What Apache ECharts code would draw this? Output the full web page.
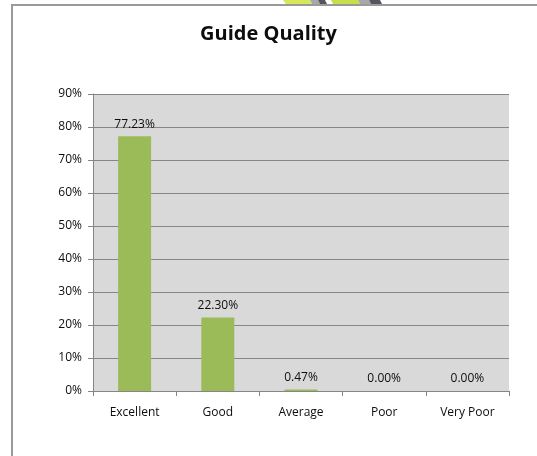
<!DOCTYPE html>
<html>
<head>
<meta charset="utf-8">
<script src="https://cdn.jsdelivr.net/npm/echarts@6/dist/echarts.min.js"></script>
<style>
  html, body { margin: 0; padding: 0; background: #fff; }
  #chart { width: 537px; height: 456px; }
</style>
</head>
<body>
<div id="chart"></div>
<script>
var categories = ['Excellent', 'Good', 'Average', 'Poor', 'Very Poor']
var quality = [77.23, 22.30, 0.47, 0.00, 0.00]

var myChart = echarts.init(document.getElementById('chart'))

var option = {
  backgroundColor: '#ffffff',
  animation: false,
  textStyle: { fontFamily: 'Open Sans' },
  title: {
    text: 'Guide Quality',
    left: 'center',
    top: 19,
    textStyle: {
      fontFamily: 'Open Sans',
      fontWeight: 'bold',
      fontSize: 20,
      color: '#0d0d0d'
    }
  },
  graphic: [
    // outer chart frame (runs off right/bottom edge)
    {
      type: 'rect',
      shape: { x: 12, y: 5, width: 600, height: 500 },
      style: { fill: null, stroke: '#9a9a9a', lineWidth: 2 },
      z: -1
    },
    // bits of a logo peeking in at the top
    { type: 'polygon', shape: { points: [[283, 0], [310, 0], [312, 4], [286, 4]] }, style: { fill: '#d6e85a' } },
    { type: 'polygon', shape: { points: [[310, 0], [318, 0], [320, 4], [312, 4]] }, style: { fill: '#a8a8a8' } },
    { type: 'polygon', shape: { points: [[318, 0], [325, 0], [327, 4], [320, 4]] }, style: { fill: '#55555f' } },
    { type: 'polygon', shape: { points: [[331, 0], [358, 0], [360, 4], [333, 4]] }, style: { fill: '#c8de4a' } },
    { type: 'polygon', shape: { points: [[358, 0], [369, 0], [371, 4], [360, 4]] }, style: { fill: '#a8a8a8' } },
    { type: 'polygon', shape: { points: [[369, 0], [380, 0], [382, 4], [371, 4]] }, style: { fill: '#55555f' } }
  ],
  grid: {
    left: 93,
    right: 28,
    top: 94,
    bottom: 65,
    show: true,
    backgroundColor: '#d9d9d9',
    borderWidth: 0
  },
  xAxis: {
    type: 'category',
    data: categories,
    axisLine: { lineStyle: { color: '#868686', width: 1 } },
    axisTick: { show: true, length: 5, lineStyle: { color: '#868686' } },
    axisLabel: { color: '#0d0d0d', fontSize: 12, margin: 16 }
  },
  yAxis: {
    type: 'value',
    min: 0,
    max: 90,
    interval: 10,
    axisLine: { show: true, lineStyle: { color: '#868686', width: 1 } },
    axisTick: { show: true, length: 5, lineStyle: { color: '#868686' } },
    axisLabel: { color: '#0d0d0d', fontSize: 12, margin: 11, formatter: '{value}%' },
    splitLine: { lineStyle: { color: '#868686', width: 1 } }
  },
  series: [{
    type: 'bar',
    data: quality,
    barWidth: 33,
    itemStyle: { color: '#9bbb59' },
    label: {
      show: true,
      position: 'top',
      distance: 6,
      color: '#0d0d0d',
      fontSize: 12,
      formatter: function (p) { return p.value.toFixed(2) + '%' }
    }
  }]
}

myChart.setOption(option)
</script>
</body>
</html>
